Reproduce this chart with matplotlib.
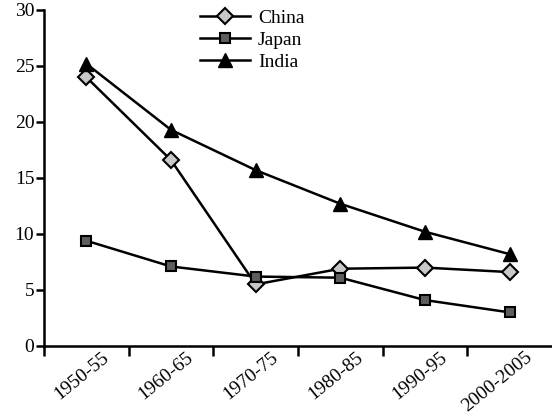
import matplotlib.pyplot as plt
import matplotlib.transforms as mtransforms

periods = ['1950-55', '1960-65', '1970-75', '1980-85', '1990-95', '2000-2005']
china = [24.0, 16.6, 5.5, 6.9, 7.0, 6.6]
japan = [9.4, 7.1, 6.2, 6.1, 4.1, 3.0]
india = [25.2, 19.3, 15.7, 12.7, 10.2, 8.2]

plt.rcParams['font.family'] = ['Liberation Serif', 'DejaVu Serif']

fig = plt.figure(figsize=(5.52, 4.17), dpi=100)
ax = fig.add_axes([44 / 552, 1 - 346 / 417, 1 - 44 / 552, 336 / 417])

x = list(range(len(periods)))
ax.plot(x, china, color='black', lw=1.8, marker='D', ms=8,
        mfc='#c8c8c8', mec='black', mew=1.5, label='China')
ax.plot(x, japan, color='black', lw=1.8, marker='s', ms=7.5,
        mfc='#5e5e5e', mec='black', mew=1.5, label='Japan')
ax.plot(x, india, color='black', lw=1.8, marker='^', ms=10,
        mfc='black', mec='black', label='India')

ax.set_xlim(-0.5, 5.5)
ax.set_ylim(0, 30)
ax.set_yticks(range(0, 31, 5))

# tick marks sit between the periods, labels at the period centres
ax.set_xticks([i - 0.5 for i in range(len(periods))])
ax.set_xticklabels([])
ax.set_xticks(x, minor=True)
ax.set_xticklabels(periods, minor=True, rotation=39, ha='right', va='top',
                   rotation_mode='anchor', fontsize=14)
ax.tick_params(axis='x', which='minor', length=0, pad=2)
ax.tick_params(axis='x', which='major', length=7, width=1.8, direction='out')
ax.tick_params(axis='y', length=6, width=1.8, direction='out', labelsize=14, pad=1)

shift = mtransforms.ScaledTranslation(15 / 100, 0, fig.dpi_scale_trans)
for lbl in ax.get_xticklabels(minor=True):
    lbl.set_transform(lbl.get_transform() + shift)

for side in ('top', 'right'):
    ax.spines[side].set_visible(False)
for side in ('left', 'bottom'):
    ax.spines[side].set_linewidth(1.8)

ax.legend(loc='upper left', bbox_to_anchor=(188 / 552, 1.005), bbox_transform=fig.transFigure,
          frameon=False, fontsize=14, handlelength=2.6, handletextpad=0.4,
          labelspacing=0.22, borderpad=0.1)

fig.savefig('out.png', dpi=100)
